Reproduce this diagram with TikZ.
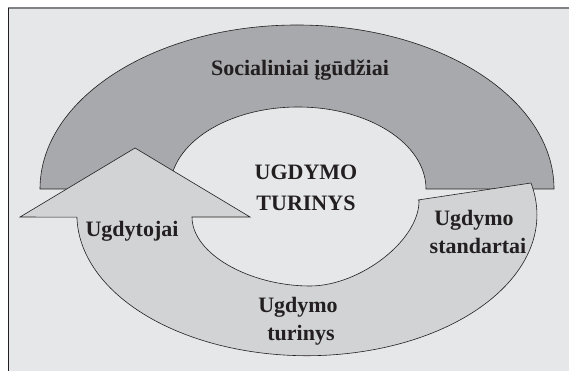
\documentclass[tikz,border=0pt]{standalone}
\usepackage{fontspec}
\setmainfont{Liberation Serif}
\definecolor{bgg}{HTML}{E6E7E8}
\definecolor{darkring}{HTML}{A7A9AC}
\definecolor{lightring}{HTML}{D1D3D4}
\definecolor{ink}{HTML}{231F20}
\definecolor{topline}{HTML}{808285}
\begin{document}
\begin{tikzpicture}[x=1pt,y=-1pt,
  shapeline/.style={draw=ink,line width=0.6pt,line join=miter},
  lbl/.style={font=\fontsize{22}{26}\selectfont\bfseries,text=ink,anchor=base,inner sep=0pt}]
\useasboundingbox (0,0) rectangle (569,371);
% background and frame
\fill[bgg] (8,8) rectangle (569,371);
\coordinate (ftl) at (8,8);
\coordinate (ftr) at (569,8);
\coordinate (fbl) at (8,371);
\draw[topline,line width=1.3pt] (ftl) -- (ftr);
\draw[ink,line width=0.9pt] (ftl) -- (fbl);
% upper dark half ring
\draw[shapeline,fill=darkring] (40,189)
  arc[start angle=180,end angle=360,x radius=257,y radius=164]
  -- (426,189)
  arc[start angle=0,end angle=-180,x radius=128,y radius=82]
  -- cycle;
% lower light ring with arrow
\draw[shapeline,fill=lightring] (418,200) -- (531,183)
  arc[start angle=-13,end angle=179,x radius=230,y radius=141]
  -- (20,217) -- (135,148) -- (250,217) -- (192,217)
  .. controls (192,254) and (250,286) .. (310,286)
  .. controls (360,286) and (420,240) .. (419,200)
  -- cycle;
% labels
\node[lbl] (soc) at (300,76) {Socialiniai įgūdžiai};
\node[lbl] (ut1) at (306,180) {UGDYMO};
\node[lbl] (ut2) at (306,210) {TURINYS};
\node[lbl] (ugd) at (132,236) {Ugdytojai};
\node[lbl] (us1) at (474,225) {Ugdymo};
\node[lbl] (us2) at (478,253) {standartai};
\node[lbl] (tur1) at (298,312) {Ugdymo};
\node[lbl] (tur2) at (301,340) {turinys};
\end{tikzpicture}
\end{document}
